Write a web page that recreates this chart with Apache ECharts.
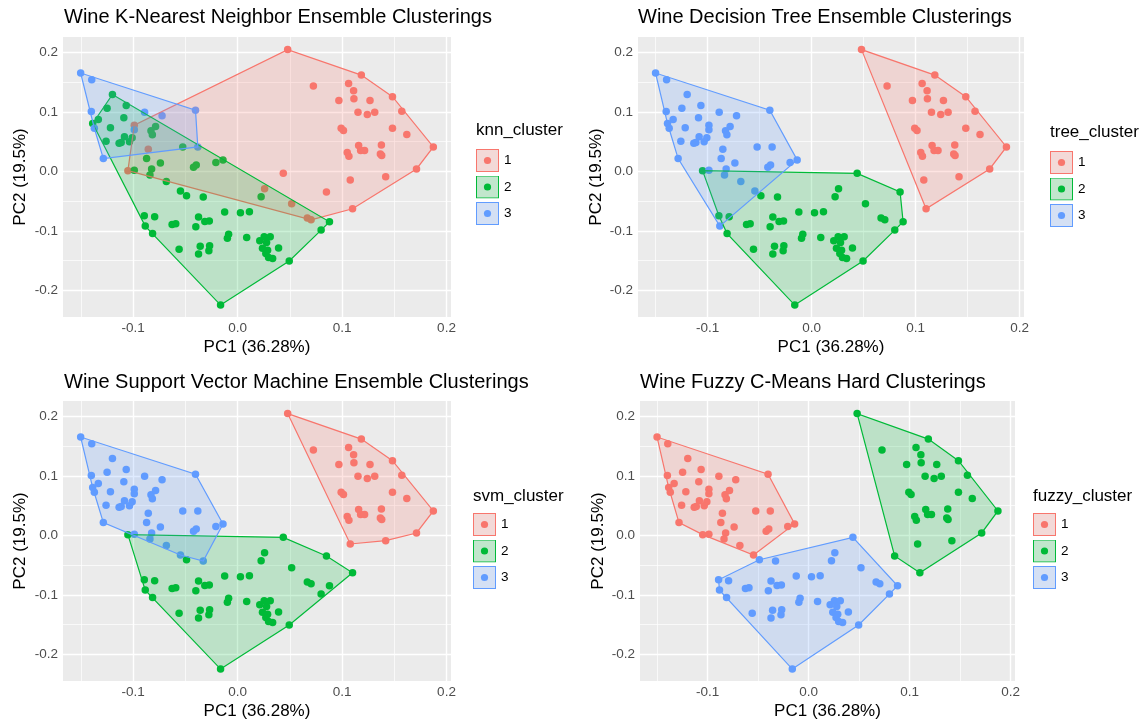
<!DOCTYPE html>
<html><head><meta charset="utf-8">
<script src="https://cdn.jsdelivr.net/npm/echarts@6/dist/echarts.min.js"></script>
<style>html,body{margin:0;padding:0;background:#fff}#c{width:1140px;height:726px}</style>
</head><body><div id="c"></div>
<script>
// ---- data (PC scores) ----
const pc1 = [
 -0.1501,-0.1395,-0.1197,-0.1065,-0.1399,-0.1248,-0.0889,-0.0722,-0.0402,-0.1332,
 -0.1386,-0.1370,-0.1088,-0.0988,-0.0988,-0.1216,-0.0828,-0.0784,-0.0815,-0.1082,
 -0.1008,-0.1034,-0.1258,-0.1133,-0.1113,-0.0854,-0.0524,-0.0380,-0.1284,-0.0870,
 -0.0738,-0.0421,-0.0395,-0.0207,-0.0139,-0.0988,-0.0822,-0.0838,-0.0681,-0.0546,
 -0.0883,
 -0.1049,-0.0488,-0.0328,-0.0892,-0.0793,-0.0813,-0.0373,-0.0626,-0.0591,-0.0399,
 -0.0313,-0.0270,-0.0123,0.0028,0.0114,0.0226,0.0259,-0.0085,-0.0097,0.0088,
 -0.0559,-0.0357,-0.0267,-0.0274,-0.0373,-0.0162,
 0.0213,0.0255,0.0313,0.0278,0.0239,0.0288,0.0271,0.0297,0.0336,0.0393,
 0.0438,0.0851,0.0518,0.0668,0.0704,0.0880,0.0800,0.0495,
 0.0480,0.1185,0.0726,0.1063,0.1111,0.0970,0.1114,0.1268,0.1483,0.1153,
 0.1242,0.1313,0.1572,0.0992,0.1014,0.1483,0.1620,0.1874,0.1159,0.1050,
 0.1066,0.1178,0.1216,0.1377,0.1367,0.1380,0.1713,0.1079,0.1418,0.1101
];
const pc2 = [
 0.1653,0.1541,0.1293,0.1108,0.1007,0.1062,0.0995,0.0934,0.1029,0.0872,
 0.0804,0.0725,0.0901,0.0776,0.0698,0.0732,0.0681,0.0754,0.0614,0.0580,
 0.0563,0.0496,0.0506,0.0472,0.0484,0.0371,0.0411,0.0411,0.0214,0.0214,
 0.0142,0.0067,0.0108,0.0147,0.0192,0.0017,0.0040,-0.0061,-0.0169,-0.0331,
 -0.0921,
 0.0012,-0.0410,-0.0432,-0.0747,-0.0764,-0.1046,-0.0769,-0.0894,-0.0882,-0.0933,
 -0.0843,-0.0836,-0.0685,-0.0696,-0.0680,-0.0427,-0.0292,-0.1056,-0.1123,-0.1113,
 -0.1309,-0.1258,-0.1253,-0.1337,-0.1388,-0.2248,
 -0.1169,-0.1101,-0.1101,-0.1197,-0.1292,-0.1325,-0.1383,-0.1450,-0.1467,-0.1287,
 -0.0034,-0.0347,-0.0545,-0.0786,-0.0815,-0.0848,-0.0988,-0.1506,
 0.2047,0.1619,0.1433,0.1479,0.1356,0.1192,0.1221,0.1192,0.1255,0.0995,
 0.0956,0.0995,0.1012,0.0725,0.0686,0.0725,0.0619,0.0411,0.0433,0.0315,
 0.0253,0.0349,0.0349,0.0445,0.0293,0.0265,0.0040,-0.0145,-0.0089,-0.0629
];
const knnCluster = [
 3,3,2,2,3,2,3,3,3,2, 2,3,2,1,3,2,2,2,2,2, 2,2,2,2,2,1,2,3,3,2, 2,2,2,2,2,2,2,2,2,2, 2,
 1,2,2,2,2,2,2,2,2,2, 2,2,2,2,2,2,1,2,2,2, 2,2,2,2,2,2,
 2,2,2,2,2,2,2,2,2,2, 1,1,1,1,1,2,2,2,
 1,1,1,1,1,1,1,1,1,1, 1,1,1,1,1,1,1,1,1,1, 1,1,1,1,1,1,1,1,1,1
];
const treeCluster = [
 3,3,3,3,3,3,3,3,3,3, 3,3,3,3,3,3,3,3,3,3, 3,3,3,3,3,3,3,3,3,3, 3,3,3,3,3,3,3,3,3,3, 3,
 2,2,2,2,2,2,2,2,2,2, 2,2,2,2,2,2,2,2,2,2, 2,2,2,2,2,2,
 2,2,2,2,2,2,2,2,2,2, 2,2,2,2,2,2,2,2,
 1,1,1,1,1,1,1,1,1,1, 1,1,1,1,1,1,1,1,1,1, 1,1,1,1,1,1,1,1,1,1
];
const svmCluster = [
 3,3,3,3,3,3,3,3,3,3, 3,3,3,3,3,3,3,3,3,3, 3,3,3,3,3,3,3,3,3,3, 3,3,3,3,3,3,3,3,3,3, 2,
 2,2,3,2,2,2,2,2,2,2, 2,2,2,2,2,2,2,2,2,2, 2,2,2,2,2,2,
 2,2,2,2,2,2,2,2,2,2, 2,2,2,2,2,2,2,2,
 1,1,1,1,1,1,1,1,1,1, 1,1,1,1,1,1,1,1,1,1, 1,1,1,1,1,1,1,1,1,2
];
const fuzzyCluster = [
 1,1,1,1,1,1,1,1,1,1, 1,1,1,1,1,1,1,1,1,1, 1,1,1,1,1,1,1,1,1,1, 1,1,1,1,1,1,1,1,1,1, 3,
 1,3,3,3,3,3,3,3,3,3, 3,3,3,3,3,3,3,3,3,3, 3,3,3,3,3,3,
 3,3,3,3,3,3,3,3,3,3, 3,2,3,3,3,3,3,3,
 2,2,2,2,2,2,2,2,2,2, 2,2,2,2,2,2,2,2,2,2, 2,2,2,2,2,2,2,2,2,2
];
const clusterLevels = ['1','2','3'];
const panelTitles = ['Wine K-Nearest Neighbor Ensemble Clusterings','Wine Decision Tree Ensemble Clusterings',
  'Wine Support Vector Machine Ensemble Clusterings','Wine Fuzzy C-Means Hard Clusterings'];
const legendTitles = ['knn_cluster','tree_cluster','svm_cluster','fuzzy_cluster'];
const xTicks = [-0.1, 0.0, 0.1, 0.2];
const xMinorTicks = [-0.15, -0.05, 0.05, 0.15];
const yTicks = [-0.2, -0.1, 0.0, 0.1, 0.2];
const yMinorTicks = [-0.15, -0.05, 0.05, 0.15];
const xAxisTitle = 'PC1 (36.28%)';
const yAxisTitle = 'PC2 (19.5%)';

// ---- styling / layout ----
const FONT = 'Liberation Sans, Arial, Helvetica, sans-serif';
const COLORS = ['#F8766D', '#00BA38', '#619CFF'];
const FILLS = ['rgba(248,118,109,0.2)', 'rgba(0,186,56,0.2)', 'rgba(97,156,255,0.2)'];
const XMIN = -0.167, XMAX = 0.2043, YMIN = -0.2449, YMAX = 0.2259;
const grids = [
  {left: 63, top: 37, width: 388, height: 280},
  {left: 638, top: 37, width: 386, height: 280},
  {left: 63, top: 401, width: 388, height: 280},
  {left: 640, top: 401, width: 375, height: 280}
];
const titlePos = [{left: 64, top: 7}, {left: 638, top: 7}, {left: 64, top: 372}, {left: 640, top: 372}];
const legTitlePos = [{left: 476, top: 122}, {left: 1050, top: 124}, {left: 473, top: 488}, {left: 1033, top: 488}];
const legPos = [{left: 476, top: 149}, {left: 1050, top: 151}, {left: 473, top: 513}, {left: 1033, top: 513}];
const clusterSets = [knnCluster, treeCluster, svmCluster, fuzzyCluster];

function hull(points) {
  const p = points.slice().sort((a, b) => a[0] - b[0] || a[1] - b[1]);
  if (p.length < 3) return p;
  const cross = (o, a, b) => (a[0]-o[0])*(b[1]-o[1]) - (a[1]-o[1])*(b[0]-o[0]);
  const lower = [], upper = [];
  for (const q of p) { while (lower.length >= 2 && cross(lower[lower.length-2], lower[lower.length-1], q) <= 0) lower.pop(); lower.push(q); }
  for (let i = p.length - 1; i >= 0; i--) { const q = p[i]; while (upper.length >= 2 && cross(upper[upper.length-2], upper[upper.length-1], q) <= 0) upper.pop(); upper.push(q); }
  upper.pop(); lower.pop();
  return lower.concat(upper);
}

function keyIcon(i) {
  const c = COLORS[i];
  const svg = "<svg xmlns='http://www.w3.org/2000/svg' width='23' height='23'>" +
    "<rect x='0' y='0' width='23' height='23' fill='#F2F2F2'/>" +
    "<rect x='0.5' y='0.5' width='22' height='22' fill='" + c + "' fill-opacity='0.2' stroke='" + c + "' stroke-width='1'/>" +
    "<circle cx='11.5' cy='11.5' r='3.6' fill='" + c + "'/></svg>";
  return 'image://data:image/svg+xml;charset=utf-8,' + encodeURIComponent(svg);
}

const option = {
  animation: false,
  backgroundColor: '#ffffff',
  textStyle: {fontFamily: FONT},
  title: [], legend: [], grid: [], xAxis: [], yAxis: [], series: []
};

const fmt = v => {
  const all = xTicks.concat(yTicks);
  return all.some(t => Math.abs(t - v) < 1e-9) ? (Math.abs(v) < 1e-9 ? '0.0' : v.toFixed(1)) : '';
};

function gridMarkLines() {
  const d = [];
  xMinorTicks.forEach(v => d.push({xAxis: v, lineStyle: {width: 0.7}}));
  yMinorTicks.forEach(v => d.push({yAxis: v, lineStyle: {width: 0.7}}));
  xTicks.forEach(v => d.push({xAxis: v, lineStyle: {width: 1.4}}));
  yTicks.forEach(v => d.push({yAxis: v, lineStyle: {width: 1.4}}));
  return d;
}

for (let g = 0; g < 4; g++) {
  option.grid.push(Object.assign({show: true, backgroundColor: '#EBEBEB', borderWidth: 0}, grids[g]));
  option.title.push({text: panelTitles[g], left: titlePos[g].left, top: titlePos[g].top, padding: 0,
    textStyle: {fontFamily: FONT, fontSize: 20, fontWeight: 'normal', color: '#000'}});
  option.title.push({text: legendTitles[g], left: legTitlePos[g].left, top: legTitlePos[g].top, padding: 0,
    textStyle: {fontFamily: FONT, fontSize: 17, fontWeight: 'normal', color: '#000'}});
  option.xAxis.push({
    type: 'value', gridIndex: g, min: XMIN, max: XMAX,
    name: xAxisTitle, nameLocation: 'middle', nameGap: 22,
    nameTextStyle: {fontFamily: FONT, fontSize: 17, color: '#000'},
    axisLine: {show: false},
    axisTick: {show: true, length: 3.7, lineStyle: {color: '#333333', width: 1}, customValues: xTicks},
    axisLabel: {show: true, customValues: xTicks, formatter: fmt, fontFamily: FONT, fontSize: 13.5, color: '#4D4D4D', margin: 4},
    splitLine: {show: false}, minorSplitLine: {show: false}
  });
  option.yAxis.push({
    type: 'value', gridIndex: g, min: YMIN, max: YMAX,
    name: yAxisTitle, nameLocation: 'middle', nameGap: (g % 2 === 0) ? 34 : 33, nameRotate: 90,
    nameTextStyle: {fontFamily: FONT, fontSize: 17, color: '#000'},
    axisLine: {show: false},
    axisTick: {show: true, length: 3.7, lineStyle: {color: '#333333', width: 1}, customValues: yTicks},
    axisLabel: {show: true, customValues: yTicks, formatter: fmt, fontFamily: FONT, fontSize: 13.5, color: '#4D4D4D', margin: 5},
    splitLine: {show: false}, minorSplitLine: {show: false}
  });
  // panel grid lines via markLine on an empty carrier series (kept beneath the points)
  option.series.push({
    type: 'scatter', xAxisIndex: g, yAxisIndex: g, z: 1, silent: true, data: [],
    markLine: {silent: true, z: 1, zlevel: 0, symbol: ['none', 'none'], animation: false,
      label: {show: false}, emphasis: {disabled: true},
      lineStyle: {color: '#FFFFFF', type: 'solid', opacity: 1},
      data: gridMarkLines()}
  });
  const cl = clusterSets[g];
  // points
  for (let c = 0; c < 3; c++) {
    const pts = [];
    for (let i = 0; i < pc1.length; i++) if (cl[i] === c + 1) pts.push([pc1[i], pc2[i]]);
    option.series.push({
      type: 'scatter', name: clusterLevels[c], xAxisIndex: g, yAxisIndex: g, z: 3,
      symbol: 'circle', symbolSize: 7.5, data: pts,
      itemStyle: {color: COLORS[c], opacity: 1}, emphasis: {disabled: true}
    });
  }
  // convex hulls
  for (let c = 0; c < 3; c++) {
    const pts = [];
    for (let i = 0; i < pc1.length; i++) if (cl[i] === c + 1) pts.push([pc1[i], pc2[i]]);
    const h = hull(pts);
    option.series.push({
      type: 'custom', xAxisIndex: g, yAxisIndex: g, z: 4, silent: true,
      data: [h[0]],
      renderItem: function (params, api) {
        const poly = h.map(p => api.coord(p));
        return {type: 'polygon', shape: {points: poly},
          style: {fill: FILLS[c], stroke: COLORS[c], lineWidth: 1.2}};
      }
    });
  }
  option.legend.push({
    orient: 'vertical', left: legPos[g].left, top: legPos[g].top, padding: 0,
    itemWidth: 23, itemHeight: 23, itemGap: 3.5, selectedMode: false,
    textStyle: {fontFamily: FONT, fontSize: 13.5, color: '#000'},
    data: clusterLevels.map((n, i) => ({name: n, icon: keyIcon(i)}))
  });
}

const chart = echarts.init(document.getElementById('c'), null, {renderer: 'canvas'});
chart.setOption(option);
</script>
</body></html>
